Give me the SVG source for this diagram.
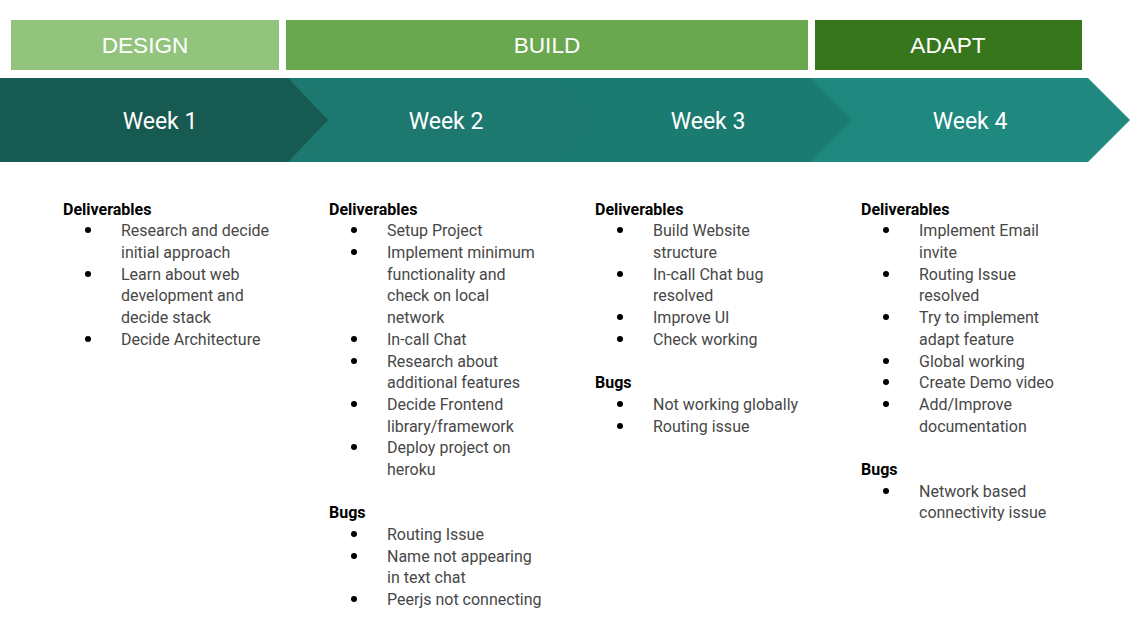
<svg xmlns="http://www.w3.org/2000/svg" width="1138" height="627" viewBox="0 0 1138 627">
  <style>
    .phase-label { font-family: "Liberation Sans", Arial, sans-serif; font-size: 22.6px; fill: #ffffff; text-anchor: middle; dominant-baseline: central; }
    .week-label { font-family: Roboto, "Liberation Sans", sans-serif; font-size: 23px; fill: #ffffff; text-anchor: middle; dominant-baseline: central; }
    .head { font-family: Roboto, "Liberation Sans", sans-serif; font-size: 16px; font-weight: bold; fill: #000000; }
    .item { font-family: Roboto, "Liberation Sans", sans-serif; font-size: 16px; fill: #474747; }
    .dot { fill: #000000; }
  </style>
  <rect width="1138" height="627" fill="#ffffff"/>

  <!-- phase bars -->
  <g id="phase-design">
    <rect x="11" y="20" width="268" height="50" fill="#93c47d"/>
    <text class="phase-label" x="145" y="45">DESIGN</text>
  </g>
  <g id="phase-build">
    <rect x="286" y="20" width="522" height="50" fill="#6aa84f"/>
    <text class="phase-label" x="547" y="45">BUILD</text>
  </g>
  <g id="phase-adapt">
    <rect x="815" y="20" width="267" height="50" fill="#38761d"/>
    <text class="phase-label" x="948" y="45">ADAPT</text>
  </g>

  <!-- week chevrons, drawn back to front so each tip overlaps the next -->
  <g id="week-4">
    <polygon points="810,78 1088,78 1130,120 1088,162 810,162" fill="#1f897f"/>
    <text class="week-label" x="970" y="121">Week 4</text>
  </g>
  <g id="week-3">
    <polygon points="548,78 810,78 852,120 810,162 548,162" fill="#1c7b71"/>
    <text class="week-label" x="708" y="121">Week 3</text>
  </g>
  <g id="week-2">
    <polygon points="288,78 548,78 590,120 548,162 288,162" fill="#1d7870"/>
    <text class="week-label" x="446" y="121">Week 2</text>
  </g>
  <g id="week-1">
    <polygon points="0,78 288,78 328,120 288,162 0,162" fill="#175a52"/>
    <text class="week-label" x="160" y="121">Week 1</text>
  </g>

  <!-- week 1 notes -->
  <g id="notes-week-1">
    <text class="head" x="63" y="215">Deliverables</text>
    <circle class="dot" cx="88" cy="230" r="3"/>
    <text class="item" x="121" y="236">Research and decide</text>
    <text class="item" x="121" y="258">initial approach</text>
    <circle class="dot" cx="88" cy="274" r="3"/>
    <text class="item" x="121" y="280">Learn about web</text>
    <text class="item" x="121" y="301">development and</text>
    <text class="item" x="121" y="323">decide stack</text>
    <circle class="dot" cx="88" cy="339" r="3"/>
    <text class="item" x="121" y="345">Decide Architecture</text>
  </g>

  <!-- week 2 notes -->
  <g id="notes-week-2">
    <text class="head" x="329" y="215">Deliverables</text>
    <circle class="dot" cx="354" cy="230" r="3"/>
    <text class="item" x="387" y="236">Setup Project</text>
    <circle class="dot" cx="354" cy="252" r="3"/>
    <text class="item" x="387" y="258">Implement minimum</text>
    <text class="item" x="387" y="280">functionality and</text>
    <text class="item" x="387" y="301">check on local</text>
    <text class="item" x="387" y="323">network</text>
    <circle class="dot" cx="354" cy="339" r="3"/>
    <text class="item" x="387" y="345">In-call Chat</text>
    <circle class="dot" cx="354" cy="361" r="3"/>
    <text class="item" x="387" y="367">Research about</text>
    <text class="item" x="387" y="388">additional features</text>
    <circle class="dot" cx="354" cy="404" r="3"/>
    <text class="item" x="387" y="410">Decide Frontend</text>
    <text class="item" x="387" y="432">library/framework</text>
    <circle class="dot" cx="354" cy="447" r="3"/>
    <text class="item" x="387" y="453">Deploy project on</text>
    <text class="item" x="387" y="475">heroku</text>
    <text class="head" x="329" y="518">Bugs</text>
    <circle class="dot" cx="354" cy="534" r="3"/>
    <text class="item" x="387" y="540">Routing Issue</text>
    <circle class="dot" cx="354" cy="556" r="3"/>
    <text class="item" x="387" y="562">Name not appearing</text>
    <text class="item" x="387" y="583">in text chat</text>
    <circle class="dot" cx="354" cy="599" r="3"/>
    <text class="item" x="387" y="605">Peerjs not connecting</text>
  </g>

  <!-- week 3 notes -->
  <g id="notes-week-3">
    <text class="head" x="595" y="215">Deliverables</text>
    <circle class="dot" cx="620" cy="230" r="3"/>
    <text class="item" x="653" y="236">Build Website</text>
    <text class="item" x="653" y="258">structure</text>
    <circle class="dot" cx="620" cy="274" r="3"/>
    <text class="item" x="653" y="280">In-call Chat bug</text>
    <text class="item" x="653" y="301">resolved</text>
    <circle class="dot" cx="620" cy="317" r="3"/>
    <text class="item" x="653" y="323">Improve UI</text>
    <circle class="dot" cx="620" cy="339" r="3"/>
    <text class="item" x="653" y="345">Check working</text>
    <text class="head" x="595" y="388">Bugs</text>
    <circle class="dot" cx="620" cy="404" r="3"/>
    <text class="item" x="653" y="410">Not working globally</text>
    <circle class="dot" cx="620" cy="426" r="3"/>
    <text class="item" x="653" y="432">Routing issue</text>
  </g>

  <!-- week 4 notes -->
  <g id="notes-week-4">
    <text class="head" x="861" y="215">Deliverables</text>
    <circle class="dot" cx="886" cy="230" r="3"/>
    <text class="item" x="919" y="236">Implement Email</text>
    <text class="item" x="919" y="258">invite</text>
    <circle class="dot" cx="886" cy="274" r="3"/>
    <text class="item" x="919" y="280">Routing Issue</text>
    <text class="item" x="919" y="301">resolved</text>
    <circle class="dot" cx="886" cy="317" r="3"/>
    <text class="item" x="919" y="323">Try to implement</text>
    <text class="item" x="919" y="345">adapt feature</text>
    <circle class="dot" cx="886" cy="361" r="3"/>
    <text class="item" x="919" y="367">Global working</text>
    <circle class="dot" cx="886" cy="382" r="3"/>
    <text class="item" x="919" y="388">Create Demo video</text>
    <circle class="dot" cx="886" cy="404" r="3"/>
    <text class="item" x="919" y="410">Add/Improve</text>
    <text class="item" x="919" y="432">documentation</text>
    <text class="head" x="861" y="475">Bugs</text>
    <circle class="dot" cx="886" cy="491" r="3"/>
    <text class="item" x="919" y="497">Network based</text>
    <text class="item" x="919" y="518">connectivity issue</text>
  </g>
</svg>
